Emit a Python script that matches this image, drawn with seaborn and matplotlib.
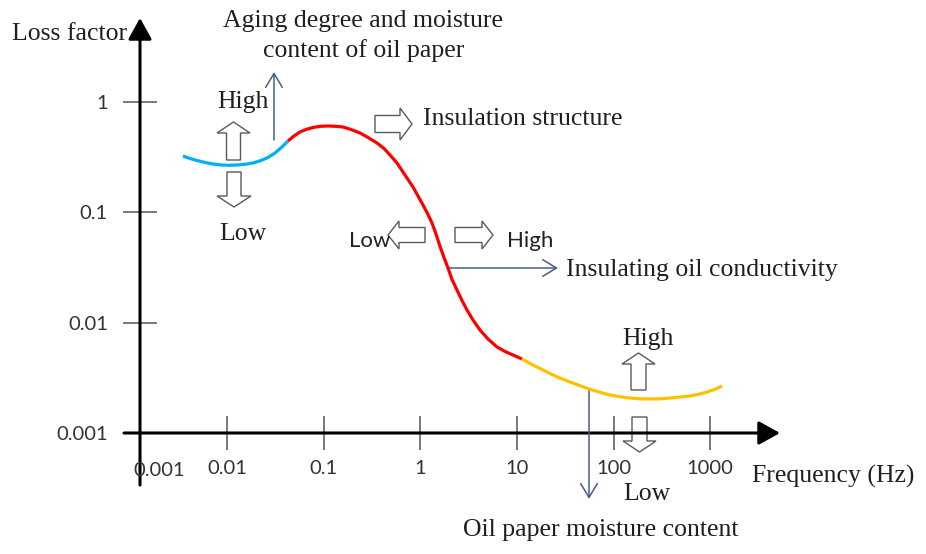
import numpy as np
import pandas as pd
import matplotlib
matplotlib.use("Agg")
import matplotlib.pyplot as plt
from matplotlib.transforms import Affine2D
from matplotlib.patches import FancyArrow
from matplotlib.ticker import NullLocator, FixedLocator, FixedFormatter
import seaborn as sns

# ---------------- data ----------------
blue_freq = [0.003486, 0.004120, 0.004869, 0.005891, 0.007129, 0.008627, 0.010438,
             0.012630, 0.015286, 0.018497, 0.022382, 0.026448, 0.031249, 0.036924,
             0.042607]
blue_loss = [0.32494, 0.30839, 0.29578, 0.28368, 0.27496, 0.26927, 0.26759,
             0.26927, 0.27325, 0.28073, 0.29578, 0.31491, 0.34595, 0.39225,
             0.44455]

red_freq = [0.042607, 0.049148, 0.056695, 0.065406, 0.077302, 0.091365, 0.11055,
            0.13377, 0.15805, 0.19125, 0.23697, 0.28680, 0.35531, 0.42004,
            0.48451, 0.57247, 0.66041, 0.74388, 0.83830, 0.94454, 1.0639, 1.1986,
            1.3185, 1.4505, 1.6032, 1.7636, 1.9307, 2.1238, 2.3929, 2.6952,
            3.0367, 3.5035, 4.1400, 5.0096, 6.2087, 7.5128, 9.0907, 11.268]
red_loss = [0.44455, 0.49349, 0.53651, 0.56529, 0.58941, 0.60438, 0.60818,
            0.60438, 0.59560, 0.56529, 0.52543, 0.47827, 0.42634, 0.38006,
            0.33179, 0.28073, 0.23260, 0.19886, 0.17001, 0.14087, 0.11672,
            0.095705, 0.080129, 0.063677, 0.048531, 0.038567, 0.031294, 0.024617,
            0.019762, 0.015869, 0.013011, 0.010558, 0.0085687, 0.0070975,
            0.0060060, 0.0054669, 0.0050806, 0.0046736]

yellow_freq = [11.268, 13.63, 16.11, 19.49, 23.59, 28.54, 35.37, 44.89, 55.65,
               72.31, 91.79, 116.48, 147.86, 187.63, 238.15, 302.2, 383.6, 486.9,
               618.0, 765.6, 926.7, 1121.0, 1324.7]
yellow_loss = [0.0046736, 0.0042546, 0.0039546, 0.0036375, 0.0033458, 0.0031099,
               0.0028905, 0.0026759, 0.0024973, 0.0023308, 0.0022030, 0.0021217,
               0.0020691, 0.0020348, 0.0020264, 0.0020348, 0.0020691, 0.0021129,
               0.0021575, 0.0022401, 0.0023455, 0.0024817, 0.0026588]

x_ticks = [0.01, 0.1, 1, 10, 100, 1000]
x_tick_labels = ["0.01", "0.1", "1", "10", "100", "1000"]
y_ticks = [0.001, 0.01, 0.1, 1]
y_tick_labels = ["0.001", "0.01", "0.1", "1"]
x_origin = 0.001254
y_origin = 0.001

segments = ["low", "mid", "high"]
seg_colors = {"low": "#00B0F0", "mid": "#FF0000", "high": "#FFC000"}

df = pd.concat([
    pd.DataFrame({"freq": blue_freq, "loss": blue_loss, "segment": "low"}),
    pd.DataFrame({"freq": red_freq, "loss": red_loss, "segment": "mid"}),
    pd.DataFrame({"freq": yellow_freq, "loss": yellow_loss, "segment": "high"}),
], ignore_index=True)

# ---------------- figure ----------------
sns.set_style("white")
plt.rcParams["font.family"] = ["Lato", "DejaVu Sans"]

W, H = 926, 554
fig = plt.figure(figsize=(W / 100, H / 100), dpi=100)
ax = fig.add_axes([0, 0, 1, 1])
ax.patch.set_visible(False)

# pixel coordinate system (origin top-left, y downward) for annotations
pix = Affine2D().scale(1 / W, -1 / H).translate(0, 1) + fig.transFigure

sns.lineplot(data=df, x="freq", y="loss", hue="segment", hue_order=segments,
             palette=seg_colors, sort=False, estimator=None, legend=False,
             linewidth=2.3, ax=ax, zorder=4, solid_joinstyle="round",
             solid_capstyle="butt")

ax.set_xscale("log")
ax.set_yscale("log")
ax.set_xlim(10 ** -4.3520, 10 ** 5.2340)
ax.set_ylim(10 ** -4.0999, 10 ** 0.9274)

for s in ax.spines.values():
    s.set_visible(False)
ax.spines["left"].set_position(("data", x_origin))
ax.spines["bottom"].set_position(("data", y_origin))

ax.xaxis.set_major_locator(FixedLocator(x_ticks))
ax.xaxis.set_major_formatter(FixedFormatter(x_tick_labels))
ax.yaxis.set_major_locator(FixedLocator(y_ticks))
ax.yaxis.set_major_formatter(FixedFormatter(y_tick_labels))
ax.xaxis.set_minor_locator(NullLocator())
ax.yaxis.set_minor_locator(NullLocator())
ax.set_xlabel("")
ax.set_ylabel("")
ax.tick_params(axis="both", which="major", direction="inout", length=24.5,
               width=1.1, color="#555555", labelsize=14.5, labelcolor="#333333",
               top=False, right=False, bottom=True, left=True)
ax.tick_params(axis="x", pad=7)
ax.tick_params(axis="y", pad=11)
ax.grid(False)

# axes with arrow heads
axis_arrow = dict(arrowstyle="-|>,head_length=0.65,head_width=0.36", lw=2.2,
                  color="black", shrinkA=0, shrinkB=0, mutation_scale=20)
ax.annotate("", xy=(780, 433), xytext=(124, 433), xycoords=pix, textcoords=pix,
            arrowprops=axis_arrow, annotation_clip=False)
ax.annotate("", xy=(140, 18), xytext=(140, 485), xycoords=pix, textcoords=pix,
            arrowprops=axis_arrow, annotation_clip=False)

# thin blue pointer arrows
thin = dict(arrowstyle="->,head_length=0.5,head_width=0.3", lw=1.1,
            color="#4A5C8C", shrinkA=0, shrinkB=0, mutation_scale=20)
for (x0, y0, x1, y1) in [(274, 140, 274, 72), (448, 268, 558, 268), (589, 389, 589, 499)]:
    ax.annotate("", xy=(x1, y1), xytext=(x0, y0), xycoords=pix, textcoords=pix,
                arrowprops=thin, annotation_clip=False)

# hollow block arrows
def block(x, y, dx, dy, w, hw, hl):
    a = FancyArrow(x, y, dx, dy, width=w, head_width=hw, head_length=hl,
                   length_includes_head=True, fc="white", ec="#5a5a5a",
                   lw=1.0, transform=pix, clip_on=False, zorder=1)
    ax.add_patch(a)

block(233.5, 160, 0, -38, 14, 33, 11)
block(234, 172, 0, 35, 14, 34, 11)
block(375, 124, 37, 0, 17, 32, 12)
block(425, 235, -37, 0, 15, 28, 11)
block(455, 235, 38, 0, 15, 28, 11)
block(638.5, 390, 0, -37, 15, 33, 11)
block(639.5, 417, 0, 35, 15, 33, 11)

# texts
serif = dict(family=["Liberation Serif", "DejaVu Serif"], fontsize=18.5,
             color="#1f1f1f", transform=pix, va="baseline")
ax.text(12, 40, "Loss factor", ha="left", **serif)
ax.text(363, 27, "Aging degree and moisture", ha="center", **serif)
ax.text(364, 57, "content of oil paper", ha="center", **serif)
ax.text(243, 108, "High", ha="center", **serif)
ax.text(243, 240, "Low", ha="center", **serif)
ax.text(423, 125, "Insulation structure", ha="left", **serif)
ax.text(566, 276, "Insulating oil conductivity", ha="left", **serif)
ax.text(648, 345, "High", ha="center", **serif)
ax.text(647, 500, "Low", ha="center", **serif)
ax.text(752, 483, "Frequency (Hz)", ha="left", **serif)
ax.text(463, 536, "Oil paper moisture content", ha="left", **serif)

sans = dict(fontsize=16, color="#222222", transform=pix, va="baseline")
ax.text(390, 247, "Low", ha="right", **sans)
ax.text(507, 247, "High", ha="left", **sans)
ax.text(159, 476, "0.001", ha="center", fontsize=14.5, color="#333333",
        transform=pix, va="baseline")

fig.savefig("out.png", dpi=100)
